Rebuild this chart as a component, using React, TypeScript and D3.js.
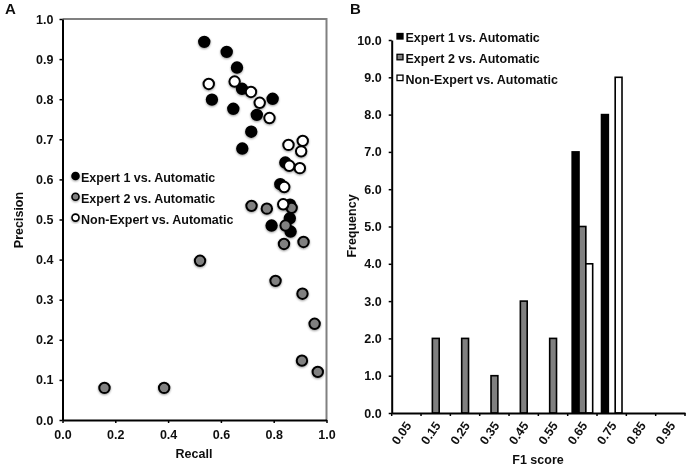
import * as d3 from "d3";
import { useEffect, useRef } from "react";

type Pt = [number, number];

const expert1: Pt[] = [
  [0.537, 0.943], [0.622, 0.918], [0.661, 0.879], [0.68, 0.826], [0.566, 0.799], [0.647, 0.776],
  [0.796, 0.801], [0.736, 0.761], [0.715, 0.719], [0.681, 0.677], [0.844, 0.642], [0.825, 0.588],
  [0.862, 0.537], [0.861, 0.503], [0.792, 0.485], [0.864, 0.47],
];
const expert2: Pt[] = [
  [0.716, 0.534], [0.774, 0.527], [0.868, 0.529], [0.845, 0.485], [0.839, 0.439], [0.913, 0.444],
  [0.521, 0.397], [0.807, 0.347], [0.909, 0.315], [0.955, 0.24], [0.907, 0.148], [0.967, 0.12],
  [0.159, 0.08], [0.385, 0.08],
];
const nonExpert: Pt[] = [
  [0.554, 0.838], [0.652, 0.844], [0.714, 0.818], [0.747, 0.791], [0.784, 0.753], [0.856, 0.686],
  [0.91, 0.696], [0.904, 0.67], [0.859, 0.634], [0.899, 0.628], [0.84, 0.581], [0.836, 0.538],
];

const seriesNames = ["Expert 1 vs. Automatic", "Expert 2 vs. Automatic", "Non-Expert vs. Automatic"];
const seriesFill = ["#000000", "#808080", "#ffffff"];

const bins = ["0.05", "0.15", "0.25", "0.35", "0.45", "0.55", "0.65", "0.75", "0.85", "0.95"];
const freq1 = [0, 0, 0, 0, 0, 0, 7, 8, 0, 0];
const freq2 = [0, 2, 2, 1, 3, 2, 5, 0, 0, 0];
const freq3 = [0, 0, 0, 0, 0, 0, 4, 9, 0, 0];

const FONT = "'Liberation Sans', Arial, sans-serif";
const FS = 12.5;

export default function App() {
  const ref = useRef<SVGSVGElement | null>(null);
  useEffect(() => {
    if (!ref.current) return;
    const svg = d3.select(ref.current);
    svg.selectAll("*").remove();
    svg.attr("font-family", FONT).attr("font-weight", "bold").attr("fill", "#111");

    const defs = svg.append("defs");
    const f = defs.append("filter").attr("id", "shadow").attr("x", "-40%").attr("y", "-40%").attr("width", "180%").attr("height", "180%");
    f.append("feDropShadow").attr("dx", 0).attr("dy", 1).attr("stdDeviation", 1).attr("flood-color", "#000").attr("flood-opacity", 0.4);
    const soft = defs.append("filter").attr("id", "soft").attr("x", "0").attr("y", "0").attr("width", "100%").attr("height", "100%");
    soft.append("feGaussianBlur").attr("stdDeviation", 0.4);

    const root = svg.append("g").attr("filter", "url(#soft)");
    root.append("rect").attr("width", 689).attr("height", 468).attr("fill", "#fff");

    // panel A
    const x = d3.scaleLinear().domain([0, 1]).range([62.5, 326.5]);
    const y = d3.scaleLinear().domain([0, 1]).range([420, 19]);

    root.append("path")
      .attr("d", `M${x(0)},${y(1)}H${x(1)}V${y(0)}`)
      .attr("fill", "none").attr("stroke", "#808080").attr("stroke-width", 2);

    const axA = root.append("g").attr("transform", `translate(0,${y(0)})`)
      .call(d3.axisBottom(x).tickValues(d3.range(0, 1.01, 0.2)).tickFormat(d3.format(".1f")).tickSize(3).tickSizeOuter(0).tickPadding(7) as any);
    const ayA = root.append("g").attr("transform", `translate(${x(0)},0)`)
      .call(d3.axisLeft(y).tickValues(d3.range(0, 1.01, 0.1)).tickFormat(d3.format(".1f")).tickSize(3).tickSizeOuter(0).tickPadding(6) as any);

    [expert1, expert2, nonExpert].forEach((pts, i) => {
      root.append("g").selectAll("circle").data(pts).join("circle")
        .attr("cx", (d) => x(d[0]))
        .attr("cy", (d) => y(d[1]))
        .attr("r", 5.2)
        .attr("fill", seriesFill[i])
        .attr("stroke", "#000")
        .attr("stroke-width", 2)
        .attr("filter", "url(#shadow)");
    });

    const legA = root.append("g").selectAll("g").data(seriesNames).join("g")
      .attr("transform", (_, i) => `translate(75.5,${176 + i * 20.8})`);
    legA.append("circle").attr("r", 3.5).attr("fill", (_, i) => seriesFill[i]).attr("stroke", "#000").attr("stroke-width", 1.6).attr("filter", "url(#shadow)");
    legA.append("text").attr("x", 5.5).attr("y", 6).attr("font-size", FS).text((d) => d);

    root.append("text").attr("x", 194).attr("y", 458).attr("text-anchor", "middle").attr("font-size", FS).text("Recall");
    root.append("text").attr("transform", "translate(23,220) rotate(-90)").attr("text-anchor", "middle").attr("font-size", FS).text("Precision");
    root.append("text").attr("x", 5).attr("y", 14).attr("font-size", 15).text("A");

    // panel B
    const bx = d3.scaleBand().domain(bins).range([391.7, 685]);
    const inner = d3.scaleBand().domain(seriesNames).range([4.5, 25]);
    const by = d3.scaleLinear().domain([0, 10]).range([413, 40]);

    [freq1, freq2, freq3].forEach((vals, i) => {
      const rows = bins.map((bin, k) => ({ bin, v: vals[k] })).filter((d) => d.v > 0);
      root.append("g").selectAll("rect").data(rows).join("rect")
        .attr("x", (d) => (bx(d.bin) ?? 0) + (inner(seriesNames[i]) ?? 0))
        .attr("y", (d) => by(d.v))
        .attr("width", inner.bandwidth())
        .attr("height", (d) => by(0) - by(d.v))
        .attr("fill", seriesFill[i])
        .attr("stroke", "#000")
        .attr("stroke-width", 1.6);
    });

    const axB = root.append("g").attr("transform", `translate(0,${by(0)})`)
      .call(d3.axisBottom(bx).tickSize(0).tickSizeOuter(0) as any);
    axB.selectAll("text")
      .attr("text-anchor", "end")
      .attr("transform", "translate(2,10) rotate(-55)")
      .attr("dy", "0.35em").attr("y", 0).attr("x", 0);
    axB.selectAll("line.edge").data(d3.range(bins.length + 1)).join("line")
      .attr("class", "edge")
      .attr("x1", (d) => bx.range()[0] + d * bx.step())
      .attr("x2", (d) => bx.range()[0] + d * bx.step())
      .attr("y1", 0).attr("y2", 3);

    const ayB = root.append("g").attr("transform", `translate(${bx.range()[0]},0)`)
      .call(d3.axisLeft(by).ticks(10).tickFormat(d3.format(".1f")).tickSize(3).tickSizeOuter(0).tickPadding(7) as any);

    [axA, ayA, axB, ayB].forEach((a) => {
      a.attr("font-family", FONT).attr("font-size", FS).attr("font-weight", "bold");
      a.selectAll("path.domain").attr("stroke", "#000").attr("stroke-width", 2);
      a.selectAll("line").attr("stroke", "#000").attr("stroke-width", 1.5);
      a.selectAll("text").attr("fill", "#111");
    });

    const legB = root.append("g").selectAll("g").data(seriesNames).join("g")
      .attr("transform", (_, i) => `translate(397,${33.5 + i * 20.8})`);
    legB.append("rect").attr("width", 6).attr("height", 5.5).attr("fill", (_, i) => seriesFill[i]).attr("stroke", "#000").attr("stroke-width", 1.3);
    legB.append("text").attr("x", 8.5).attr("y", 8.5).attr("font-size", FS).text((d) => d);

    root.append("text").attr("x", 538).attr("y", 464).attr("text-anchor", "middle").attr("font-size", FS).text("F1 score");
    root.append("text").attr("transform", "translate(356,226) rotate(-90)").attr("text-anchor", "middle").attr("font-size", FS).text("Frequency");
    root.append("text").attr("x", 350).attr("y", 14).attr("font-size", 15).text("B");
  }, []);
  return <svg ref={ref} width={689} height={468} style={{ position: "absolute", left: 0, top: 0 }} />;
}
